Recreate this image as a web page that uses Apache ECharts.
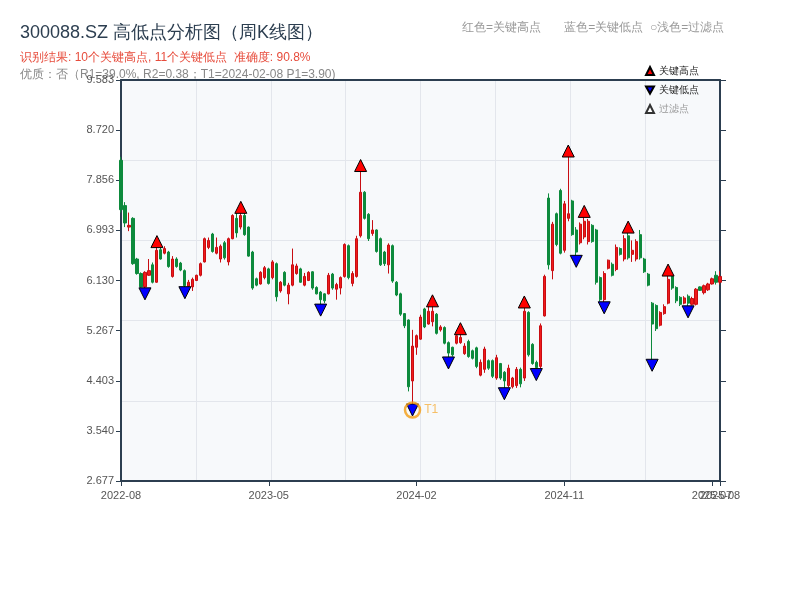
<!DOCTYPE html>
<html><head><meta charset="utf-8">
<script src="https://cdn.jsdelivr.net/npm/echarts@6/dist/echarts.min.js"></script>
<style>html,body{margin:0;padding:0;background:#fff}#c{width:800px;height:600px}</style>
</head><body><div id="c"></div>
<script>
const dates = ['2022-08-26','2022-09-02','2022-09-09','2022-09-16','2022-09-23','2022-09-30','2022-10-14','2022-10-21','2022-10-28','2022-11-04',
'2022-11-11','2022-11-18','2022-11-25','2022-12-02','2022-12-09','2022-12-16','2022-12-23','2022-12-30','2023-01-06','2023-01-13',
'2023-01-20','2023-02-03','2023-02-10','2023-02-17','2023-02-24','2023-03-03','2023-03-10','2023-03-17','2023-03-24','2023-03-31',
'2023-04-07','2023-04-14','2023-04-21','2023-04-28','2023-05-05','2023-05-12','2023-05-19','2023-05-26','2023-06-02','2023-06-09',
'2023-06-16','2023-06-21','2023-06-30','2023-07-07','2023-07-14','2023-07-21','2023-07-28','2023-08-04','2023-08-11','2023-08-18',
'2023-08-25','2023-09-01','2023-09-08','2023-09-15','2023-09-22','2023-09-28','2023-10-13','2023-10-20','2023-10-27','2023-11-03',
'2023-11-10','2023-11-17','2023-11-24','2023-12-01','2023-12-08','2023-12-15','2023-12-22','2023-12-29','2024-01-05','2024-01-12',
'2024-01-19','2024-01-26','2024-02-02','2024-02-08','2024-02-23','2024-03-01','2024-03-08','2024-03-15','2024-03-22','2024-03-29',
'2024-04-03','2024-04-12','2024-04-19','2024-04-26','2024-04-30','2024-05-10','2024-05-17','2024-05-24','2024-05-31','2024-06-07',
'2024-06-14','2024-06-21','2024-06-28','2024-07-05','2024-07-12','2024-07-19','2024-07-26','2024-08-02','2024-08-09','2024-08-16',
'2024-08-23','2024-08-30','2024-09-06','2024-09-13','2024-09-20','2024-09-27','2024-09-30','2024-10-11','2024-10-18','2024-10-25',
'2024-11-01','2024-11-08','2024-11-15','2024-11-22','2024-11-29','2024-12-06','2024-12-13','2024-12-20','2024-12-27','2025-01-03',
'2025-01-10','2025-01-17','2025-01-24','2025-01-27','2025-02-07','2025-02-14','2025-02-21','2025-02-28','2025-03-07','2025-03-14',
'2025-03-21','2025-03-28','2025-04-03','2025-04-11','2025-04-18','2025-04-25','2025-04-30','2025-05-09','2025-05-16','2025-05-23',
'2025-05-30','2025-06-06','2025-06-13','2025-06-20','2025-06-27','2025-07-04','2025-07-11','2025-07-18','2025-07-25','2025-08-01',
'2025-08-08'];

const opens = [8.20,7.42,7.05,7.20,6.50,6.25,6.02,6.22,6.40,6.10,
6.66,6.60,6.62,6.20,6.50,6.43,6.30,6.03,6.02,6.13,
6.22,6.45,6.70,6.93,6.60,6.50,6.78,6.45,6.85,7.20,
7.05,7.25,7.05,6.62,6.16,6.07,6.18,6.33,6.18,6.42,
5.95,6.27,5.90,6.05,6.25,6.33,6.05,6.13,6.28,6.01,
5.93,5.90,5.90,6.24,5.98,6.00,6.20,6.73,6.08,6.20,
6.90,7.65,7.27,6.94,7.00,6.85,6.62,6.40,6.73,6.10,
5.90,5.56,5.45,4.40,4.98,5.12,5.64,5.38,5.42,5.55,
5.28,5.32,5.06,4.98,5.05,5.06,4.87,5.08,4.92,4.97,
4.50,4.60,4.75,4.75,4.45,4.70,4.55,4.32,4.30,4.32,
4.60,4.45,5.58,5.03,4.72,4.65,5.52,7.55,6.30,7.28,
7.68,6.65,7.20,7.50,7.00,6.78,6.88,6.80,7.08,7.00,
6.18,5.80,6.34,6.41,6.32,6.68,6.50,6.90,6.58,6.50,
6.92,6.50,6.24,5.74,5.70,5.36,5.56,5.74,6.20,6.01,
5.84,5.74,5.86,5.72,5.72,6.02,5.92,5.97,6.07,6.22,
6.10];

const closes = [7.35,7.12,7.08,6.42,6.25,6.02,6.27,6.30,6.10,6.65,
6.50,6.68,6.37,6.50,6.37,6.31,6.04,6.10,6.15,6.22,
6.42,6.85,6.82,6.63,6.70,6.72,6.52,6.85,7.25,6.95,
7.25,6.92,6.55,6.00,6.05,6.27,6.35,6.08,6.45,5.85,
6.10,6.05,6.05,6.40,6.38,6.10,6.20,6.27,6.00,5.90,
5.80,5.78,6.22,6.00,6.06,6.18,6.75,6.18,6.25,6.85,
7.65,7.20,6.85,7.00,6.63,6.40,6.42,6.74,6.12,5.88,
5.55,5.35,4.30,5.00,5.18,5.50,5.33,5.60,5.60,5.22,
5.33,5.05,4.88,4.85,5.18,5.15,5.00,4.82,4.79,4.65,
4.72,4.95,4.62,4.48,4.80,4.45,4.40,4.62,4.45,4.60,
4.35,5.60,4.85,4.70,4.63,5.35,6.20,6.40,7.10,6.75,
6.60,7.45,7.28,6.92,6.62,7.10,7.15,7.15,6.80,6.10,
5.80,6.25,6.48,6.22,6.70,6.58,6.85,6.52,6.65,6.80,
6.52,6.28,6.05,5.38,5.30,5.58,5.68,6.15,6.00,5.78,
5.72,5.83,5.74,5.82,5.98,5.96,6.04,6.07,6.16,6.10,
6.20];

const lows = [7.30,7.05,6.98,6.40,6.23,6.01,5.90,6.21,6.08,6.09,
6.49,6.58,6.35,6.18,6.35,6.29,5.92,5.95,5.95,6.12,
6.20,6.44,6.67,6.61,6.58,6.44,6.49,6.39,6.84,6.87,
7.01,6.90,6.54,5.97,6.03,6.06,6.15,6.06,6.15,5.77,
5.92,6.03,5.72,6.03,6.23,6.09,6.03,6.12,5.97,5.89,
5.62,5.74,5.89,5.97,5.80,5.89,6.18,6.15,6.03,6.18,
6.87,7.18,6.81,6.90,6.61,6.38,6.38,6.25,6.09,5.86,
5.52,5.31,4.22,3.90,4.85,5.11,5.31,5.37,5.34,5.20,
5.25,5.03,4.71,4.82,5.03,5.04,4.85,4.80,4.77,4.62,
4.48,4.54,4.59,4.45,4.42,4.42,4.18,4.29,4.27,4.28,
4.29,4.40,4.82,4.68,4.51,4.62,5.51,6.32,6.15,6.72,
6.58,6.61,7.15,6.90,6.46,6.75,6.84,6.75,6.78,6.06,
5.77,5.66,6.32,6.20,6.29,6.56,6.46,6.49,6.45,6.46,
6.49,6.26,6.03,4.67,5.26,5.34,5.54,5.72,5.97,5.74,
5.69,5.72,5.59,5.70,5.70,5.95,5.89,5.95,6.06,6.06,
6.06];

const highs = [8.26,7.48,7.30,7.22,6.52,6.27,6.29,6.50,6.44,6.80,
6.69,6.72,6.64,6.55,6.53,6.45,6.32,6.14,6.18,6.23,
6.44,6.87,6.87,6.95,6.87,6.75,6.81,6.87,7.27,7.30,
7.39,7.36,7.06,6.64,6.18,6.29,6.38,6.35,6.48,6.44,
6.12,6.29,6.09,6.68,6.42,6.35,6.26,6.29,6.29,6.03,
5.95,5.91,6.26,6.26,6.09,6.20,6.77,6.75,6.29,6.90,
8.11,7.67,7.29,7.17,7.01,6.87,6.64,6.77,6.75,6.12,
5.92,5.57,5.46,5.28,5.20,5.54,5.66,5.70,5.78,5.57,
5.36,5.34,5.08,4.99,5.20,5.30,5.05,5.11,4.94,4.99,
4.77,4.99,4.77,4.77,4.85,4.71,4.57,4.68,4.47,4.64,
4.63,5.76,5.60,5.05,4.75,5.39,6.23,7.63,7.14,7.30,
7.71,7.50,8.36,7.52,7.05,7.13,7.32,7.19,7.10,7.02,
6.20,6.29,6.49,6.44,6.75,6.70,6.91,7.05,6.82,6.84,
7.00,6.52,6.26,5.76,5.72,5.60,5.72,6.31,6.22,6.03,
5.86,5.86,5.89,5.85,6.00,6.03,6.06,6.09,6.18,6.29,
6.29];

const keyHighDates = ['2022-11-04','2023-04-07','2023-11-10','2024-03-22','2024-05-10','2024-08-30','2024-11-15','2024-12-13','2025-02-28','2025-05-09'];
const keyHighValues = [6.80,7.39,8.11,5.78,5.30,5.76,8.36,7.32,7.05,6.31];
const keyLowDates = ['2022-10-14','2022-12-23','2023-08-25','2024-02-08','2024-04-19','2024-07-26','2024-09-20','2024-11-29','2025-01-17','2025-04-11','2025-06-13'];
const keyLowValues = [5.90,5.92,5.62,3.90,4.71,4.18,4.51,6.46,5.66,4.67,5.59];
const filteredDates = [];
const filteredValues = [];
const t1Date = '2024-02-08';
const t1Value = 3.90;

const yTickLabels = [2.677, 3.540, 4.403, 5.267, 6.130, 6.993, 7.856, 8.720, 9.583];
const xTickDates = ['2022-08-26','2023-05-26','2024-02-23','2024-11-08','2025-07-25','2025-08-08'];

const yMin = yTickLabels[0], yMax = yTickLabels[yTickLabels.length - 1];
const yInterval = (yMax - yMin) / (yTickLabels.length - 1);
const nearestLabel = v => {
  let best = yTickLabels[0];
  yTickLabels.forEach(t => { if (Math.abs(t - v) < Math.abs(best - v)) best = t; });
  return best.toFixed(3);
};
const lastTick = xTickDates[xTickDates.length - 1];
const showX = (idx) => dates[idx] !== lastTick && xTickDates.indexOf(dates[idx]) >= 0;
const showLast = (idx) => dates[idx] === lastTick;

const AXIS = '#2c3e50';
const SPLIT = '#e3e6ec';
const DOWN_TRI = 'path://M0,0 L10,0 L5,9 Z';

const chart = echarts.init(document.getElementById('c'), null, {renderer: 'canvas'});
chart.setOption({
  animation: false,
  backgroundColor: '#ffffff',
  textStyle: {fontFamily: 'sans-serif'},
  title: [
    {text: '300088.SZ 高低点分析图（周K线图）', left: 20, top: 24, padding: 0,
     textStyle: {fontSize: 18, fontWeight: 'normal', color: '#2c3e50'}},
    {text: '识别结果: 10个关键高点, 11个关键低点  准确度: 90.8%', left: 20, top: 52, padding: 0, z: -1,
     textStyle: {fontSize: 12, fontWeight: 'normal', color: '#e74c3c'}},
    {text: '优质：否（R1=39.0%, R2=0.38；T1=2024-02-08 P1=3.90)', left: 20, top: 69, padding: 0, z: -1,
     textStyle: {fontSize: 12, fontWeight: 'normal', color: '#888888'}},
    {text: '红色=关键高点       蓝色=关键低点  ○浅色=过滤点', left: 462, top: 22, padding: 0,
     textStyle: {fontSize: 12, fontWeight: 'normal', color: '#999999'}}
  ],
  legend: {
    orient: 'vertical', left: 645, top: 66, itemWidth: 8, itemHeight: 8, itemGap: 9, padding: 0,
    textStyle: {fontSize: 10, color: '#222'},
    data: [
      {name: '关键高点', icon: 'triangle'},
      {name: '关键低点', icon: DOWN_TRI},
      {name: '过滤点', icon: 'triangle', textStyle: {color: '#999'}}
    ]
  },
  grid: {left: 121, right: 80, top: 80, bottom: 119, show: true, backgroundColor: '#f7f9fb', borderWidth: 0},
  xAxis: [
    {type: 'category', data: dates, boundaryGap: false, position: 'bottom',
     axisLine: {lineStyle: {color: AXIS, width: 2}},
     axisTick: {show: true, interval: showX, length: 5, lineStyle: {color: AXIS, width: 1}},
     axisLabel: {interval: showX, color: '#555', fontSize: 11, margin: 9, formatter: v => v.slice(0, 7)},
     splitLine: {show: false}},
    {type: 'value', position: 'top', min: 0, max: 8, interval: 1,
     axisLine: {show: true, onZero: false, lineStyle: {color: AXIS, width: 2}},
     axisTick: {show: false}, axisLabel: {show: false},
     splitLine: {show: true, lineStyle: {color: SPLIT, width: 1}}},
    {type: 'category', data: dates, boundaryGap: false, position: 'bottom',
     axisLine: {show: false},
     axisTick: {show: true, interval: showLast, length: 5, lineStyle: {color: AXIS, width: 1}},
     axisLabel: {interval: showLast, showMaxLabel: true, color: '#555', fontSize: 11, margin: 9, formatter: v => v.slice(0, 7)},
     splitLine: {show: false}}
  ],
  yAxis: [
    {type: 'value', min: yMin, max: yMax, interval: yInterval, position: 'left',
     axisLine: {show: true, lineStyle: {color: AXIS, width: 2}},
     axisTick: {show: true, length: 5, lineStyle: {color: AXIS}},
     axisLabel: {color: '#555', fontSize: 11, margin: 7, formatter: nearestLabel},
     splitLine: {show: false}},
    {type: 'value', min: yMin, max: yMax, interval: yInterval, position: 'right',
     axisLine: {show: true, lineStyle: {color: AXIS, width: 2}},
     axisTick: {show: true, length: 6, lineStyle: {color: AXIS}},
     axisLabel: {show: false}, splitLine: {show: false}},
    {type: 'value', min: 0, max: 5, interval: 1, position: 'right',
     axisLine: {show: false}, axisTick: {show: false}, axisLabel: {show: false},
     splitLine: {show: true, lineStyle: {color: SPLIT, width: 1}}}
  ],
  series: [
    {type: 'candlestick', name: 'K线', xAxisIndex: 0, yAxisIndex: 0, barWidth: 2.6,
     data: dates.map((d, i) => [opens[i], closes[i], lows[i], highs[i]]),
     itemStyle: {color: '#f01b1b', color0: '#0d8a3c', borderColor: '#c80d12', borderColor0: '#0d8a3c', borderWidth: 1}},
    {type: 'scatter', name: '关键高点', xAxisIndex: 0, yAxisIndex: 0, symbol: 'triangle', symbolSize: 12, z: 4,
     data: keyHighDates.map((d, i) => [d, keyHighValues[i]]),
     itemStyle: {color: '#ff0000', borderColor: '#000', borderWidth: 1, opacity: 1}},
    {type: 'scatter', name: '关键低点', xAxisIndex: 0, yAxisIndex: 0, symbol: 'triangle', symbolRotate: 180, symbolSize: 12, z: 4,
     data: keyLowDates.map((d, i) => [d, keyLowValues[i]]),
     itemStyle: {color: '#0000ff', borderColor: '#000', borderWidth: 1, opacity: 1}},
    {type: 'scatter', name: '过滤点', xAxisIndex: 0, yAxisIndex: 0, symbol: 'triangle', symbolSize: 8, z: 4,
     data: filteredDates.map((d, i) => [d, filteredValues[i]]),
     itemStyle: {color: '#ffffff', borderColor: '#000', borderWidth: 1}},
    {type: 'scatter', name: 'T1', xAxisIndex: 0, yAxisIndex: 0, symbol: 'circle', symbolSize: 15, z: 5,
     data: [[t1Date, t1Value]],
     itemStyle: {color: 'rgba(0,0,0,0)', borderColor: '#f39c12', borderWidth: 2.5},
     label: {show: true, formatter: 'T1', position: 'right', distance: 3, color: '#f5b041', fontSize: 12}}
  ]
});
</script></body></html>
